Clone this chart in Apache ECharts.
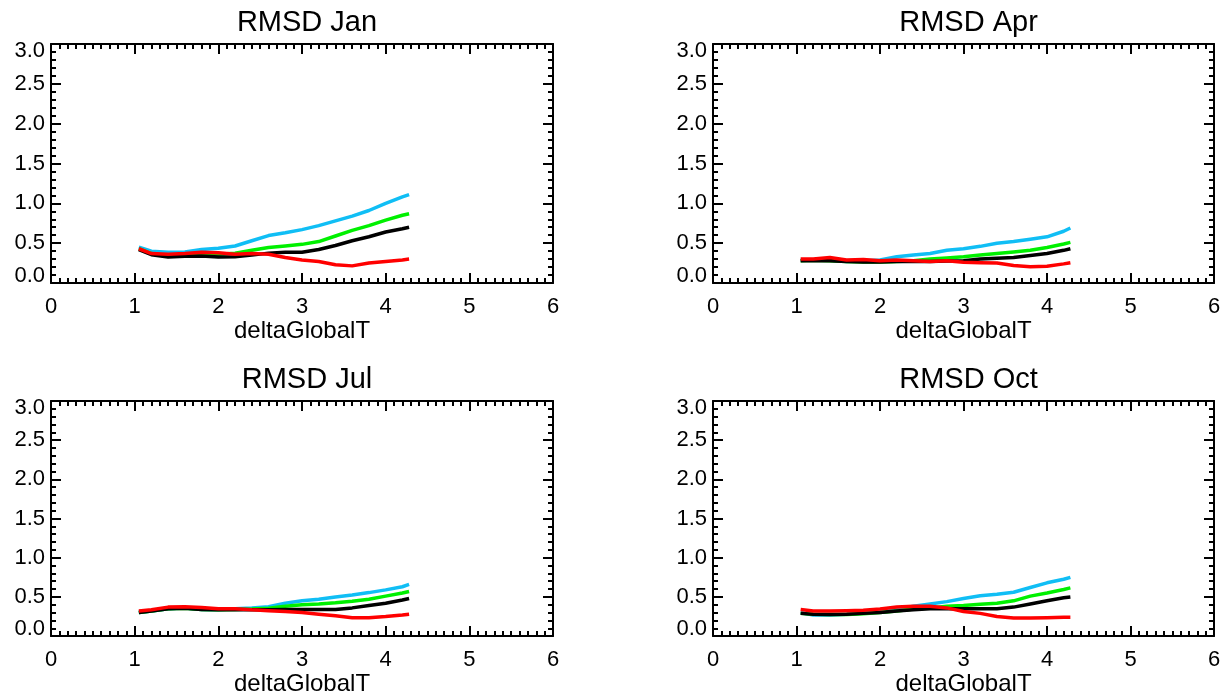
<!DOCTYPE html>
<html>
<head>
<meta charset="utf-8">
<script src="https://cdn.jsdelivr.net/npm/echarts@6/dist/echarts.min.js"></script>
<style>
  html, body { margin: 0; padding: 0; background: #fff; }
  #chart { width: 1230px; height: 697px; }
</style>
</head>
<body>
<div id="chart"></div>
<script>
// ---- Data ----
const xs = [1.05, 1.2, 1.4, 1.6, 1.8, 2.0, 2.2, 2.4, 2.6, 2.8, 3.0, 3.2, 3.4, 3.6, 3.8, 4.0, 4.2, 4.28];

const titles = ['RMSD Jan', 'RMSD Apr', 'RMSD Jul', 'RMSD Oct'];
const xTickLabels = ['0', '1', '2', '3', '4', '5', '6'];
const yTickLabels = ['0.0', '0.5', '1.0', '1.5', '2.0', '2.5', '3.0'];
const xName = 'deltaGlobalT';

const janCyan  = [0.45, 0.40, 0.385, 0.39, 0.42, 0.435, 0.465, 0.53, 0.595, 0.63, 0.67, 0.72, 0.78, 0.84, 0.91, 1.00, 1.08, 1.11];
const janGreen = [0.43, 0.37, 0.34, 0.345, 0.355, 0.36, 0.375, 0.41, 0.445, 0.465, 0.485, 0.52, 0.59, 0.66, 0.72, 0.79, 0.85, 0.87];
const janBlack = [0.42, 0.355, 0.325, 0.335, 0.34, 0.325, 0.33, 0.35, 0.375, 0.385, 0.385, 0.42, 0.47, 0.53, 0.58, 0.64, 0.68, 0.70];
const janRed   = [0.43, 0.37, 0.36, 0.37, 0.385, 0.38, 0.36, 0.37, 0.36, 0.32, 0.29, 0.27, 0.23, 0.215, 0.25, 0.27, 0.29, 0.30];

const aprCyan  = [0.29, 0.29, 0.29, 0.27, 0.28, 0.29, 0.33, 0.35, 0.37, 0.41, 0.43, 0.46, 0.50, 0.52, 0.55, 0.58, 0.65, 0.69];
const aprGreen = [0.28, 0.285, 0.28, 0.27, 0.265, 0.265, 0.27, 0.28, 0.30, 0.315, 0.33, 0.35, 0.37, 0.39, 0.41, 0.445, 0.49, 0.51];
const aprBlack = [0.28, 0.28, 0.28, 0.27, 0.265, 0.265, 0.27, 0.27, 0.27, 0.275, 0.28, 0.30, 0.31, 0.32, 0.345, 0.37, 0.41, 0.43];
const aprRed   = [0.30, 0.30, 0.32, 0.29, 0.295, 0.28, 0.29, 0.28, 0.27, 0.28, 0.26, 0.255, 0.25, 0.22, 0.205, 0.21, 0.24, 0.255];

const julCyan  = [0.30, 0.32, 0.35, 0.36, 0.34, 0.335, 0.35, 0.36, 0.375, 0.42, 0.45, 0.47, 0.50, 0.525, 0.555, 0.59, 0.63, 0.66];
const julGreen = [0.30, 0.32, 0.35, 0.355, 0.34, 0.335, 0.34, 0.345, 0.355, 0.38, 0.40, 0.41, 0.425, 0.445, 0.47, 0.51, 0.55, 0.57];
const julBlack = [0.30, 0.32, 0.35, 0.355, 0.34, 0.335, 0.34, 0.335, 0.335, 0.34, 0.34, 0.34, 0.34, 0.36, 0.39, 0.42, 0.46, 0.48];
const julRed   = [0.32, 0.335, 0.37, 0.375, 0.365, 0.35, 0.35, 0.335, 0.325, 0.315, 0.30, 0.28, 0.26, 0.235, 0.235, 0.25, 0.27, 0.28];

const octCyan  = [0.30, 0.27, 0.27, 0.28, 0.295, 0.316, 0.34, 0.38, 0.41, 0.44, 0.48, 0.515, 0.535, 0.56, 0.62, 0.68, 0.725, 0.75];
const octGreen = [0.29, 0.28, 0.275, 0.275, 0.285, 0.30, 0.32, 0.345, 0.36, 0.38, 0.39, 0.405, 0.42, 0.45, 0.51, 0.55, 0.595, 0.615];
const octBlack = [0.29, 0.28, 0.275, 0.28, 0.29, 0.30, 0.32, 0.335, 0.35, 0.35, 0.35, 0.35, 0.35, 0.37, 0.41, 0.45, 0.49, 0.50];
const octRed   = [0.34, 0.32, 0.32, 0.325, 0.33, 0.345, 0.37, 0.38, 0.38, 0.36, 0.315, 0.29, 0.25, 0.23, 0.23, 0.235, 0.24, 0.24];

const seriesColors = ['#10BEF5', '#00F000', '#000000', '#FF0000'];
const panelData = [
  [janCyan, janGreen, janBlack, janRed],
  [aprCyan, aprGreen, aprBlack, aprRed],
  [julCyan, julGreen, julBlack, julRed],
  [octCyan, octGreen, octBlack, octRed]
];

// ---- Layout ----
const FONT = 'Liberation Sans, Arial, Helvetica, sans-serif';
const grids = [
  { left: 51,  top: 44,  width: 502, height: 239 },
  { left: 713, top: 44,  width: 501, height: 239 },
  { left: 51,  top: 401, width: 502, height: 238 },
  { left: 713, top: 401, width: 501, height: 238 }
];

const axisLine = { show: true, onZero: false, lineStyle: { color: '#000', width: 2 } };
const tick = { show: true, inside: true, length: 10, lineStyle: { color: '#000', width: 2 } };

const option = {
  backgroundColor: '#fff',
  animation: false,
  title: [],
  grid: [],
  xAxis: [],
  yAxis: [],
  series: []
};

grids.forEach((g, i) => {
  option.grid.push(Object.assign({ containLabel: false }, g));
  option.title.push({
    text: titles[i],
    left: g.left + g.width / 2,
    top: g.top - 41,
    textAlign: 'center',
    textStyle: { fontFamily: FONT, fontSize: 29, fontWeight: 'normal', color: '#000' }
  });
  // bottom x axis
  option.xAxis.push({
    type: 'value', gridIndex: i, position: 'bottom', min: 0, max: 6, interval: 1,
    axisLine, axisTick: tick,
    minorTick: { show: true, splitNumber: 10, length: 5, lineStyle: { color: '#000', width: 2 } },
    splitLine: { show: false }, minorSplitLine: { show: false },
    axisLabel: {
      show: true, margin: 13, color: '#000', fontFamily: FONT, fontSize: 22,
      formatter: v => xTickLabels[Math.round(v)]
    },
    name: xName, nameLocation: 'middle', nameGap: 33,
    nameTextStyle: { fontFamily: FONT, fontSize: 24, color: '#000' }
  });
  // top x axis (ticks only)
  option.xAxis.push({
    type: 'value', gridIndex: i, position: 'top', min: 0, max: 6, interval: 1,
    axisLine, axisTick: tick,
    minorTick: { show: true, splitNumber: 10, length: 5, lineStyle: { color: '#000', width: 2 } },
    splitLine: { show: false }, axisLabel: { show: false }
  });
  // left y axis
  option.yAxis.push({
    type: 'value', gridIndex: i, position: 'left', min: 0, max: 3, interval: 0.5,
    axisLine, axisTick: tick,
    minorTick: { show: true, splitNumber: 5, length: 5, lineStyle: { color: '#000', width: 2 } },
    splitLine: { show: false }, minorSplitLine: { show: false },
    axisLabel: {
      show: true, margin: 6, color: '#000', fontFamily: FONT, fontSize: 22, lineHeight: 14,
      verticalAlignMinLabel: 'bottom', verticalAlignMaxLabel: 'top',
      formatter: v => yTickLabels[Math.round(v * 2)]
    }
  });
  // right y axis (ticks only)
  option.yAxis.push({
    type: 'value', gridIndex: i, position: 'right', min: 0, max: 3, interval: 0.5,
    axisLine, axisTick: tick,
    minorTick: { show: true, splitNumber: 5, length: 5, lineStyle: { color: '#000', width: 2 } },
    splitLine: { show: false }, axisLabel: { show: false }
  });
  panelData[i].forEach((vals, k) => {
    option.series.push({
      type: 'line',
      xAxisIndex: i * 2,
      yAxisIndex: i * 2,
      showSymbol: false,
      symbol: 'none',
      z: 2 + k,
      lineStyle: { color: seriesColors[k], width: 3.5 },
      data: xs.map((x, j) => [x, vals[j]])
    });
  });
});

const chart = echarts.init(document.getElementById('chart'), null, { renderer: 'canvas' });
chart.setOption(option);
</script>
</body>
</html>
